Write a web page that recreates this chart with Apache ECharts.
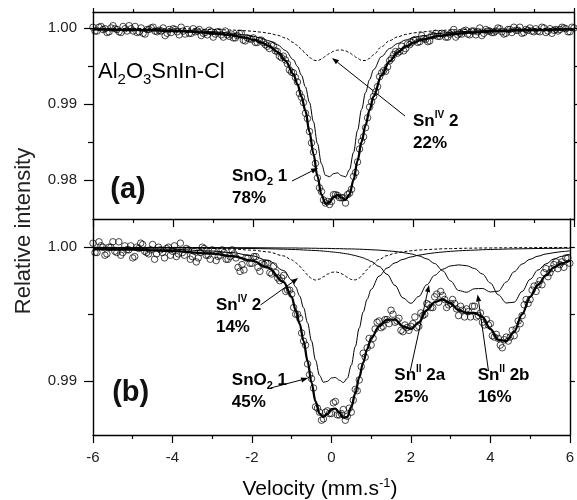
<!DOCTYPE html>
<html><head><meta charset="utf-8">
<script src="https://cdn.jsdelivr.net/npm/echarts@6/dist/echarts.min.js"></script>
<style>html,body{margin:0;padding:0;background:#fff}#c{width:577px;height:500px}</style>
</head><body><div id="c"></div>
<script>
// ---------- data: observed channels (two interleaved channel sets) ----------
const velocity = [
-6,-5.9,-5.8,-5.7,-5.6,-5.5,-5.4,-5.3,-5.2,-5.1,
-5,-4.9,-4.8,-4.7,-4.6,-4.5,-4.4,-4.3,-4.2,-4.1,
-4,-3.9,-3.8,-3.7,-3.6,-3.5,-3.4,-3.3,-3.2,-3.1,
-3,-2.9,-2.8,-2.7,-2.6,-2.5,-2.4,-2.3,-2.2,-2.1,
-2,-1.9,-1.8,-1.7,-1.6,-1.5,-1.4,-1.3,-1.2,-1.1,
-1,-0.9,-0.8,-0.7,-0.6,-0.5,-0.4,-0.3,-0.2,-0.1,
0,0.1,0.2,0.3,0.4,0.5,0.6,0.7,0.8,0.9,
1,1.1,1.2,1.3,1.4,1.5,1.6,1.7,1.8,1.9,
2,2.1,2.2,2.3,2.4,2.5,2.6,2.7,2.8,2.9,
3,3.1,3.2,3.3,3.4,3.5,3.6,3.7,3.8,3.9,
4,4.1,4.2,4.3,4.4,4.5,4.6,4.7,4.8,4.9,
5,5.1,5.2,5.3,5.4,5.5,5.6,5.7,5.8,5.9,
6];
const velocityMid = [
-5.95,-5.85,-5.75,-5.65,-5.55,-5.45,-5.35,-5.25,-5.15,-5.05,
-4.95,-4.85,-4.75,-4.65,-4.55,-4.45,-4.35,-4.25,-4.15,-4.05,
-3.95,-3.85,-3.75,-3.65,-3.55,-3.45,-3.35,-3.25,-3.15,-3.05,
-2.95,-2.85,-2.75,-2.65,-2.55,-2.45,-2.35,-2.25,-2.15,-2.05,
-1.95,-1.85,-1.75,-1.65,-1.55,-1.45,-1.35,-1.25,-1.15,-1.05,
-0.95,-0.85,-0.75,-0.65,-0.55,-0.45,-0.35,-0.25,-0.15,-0.05,
0.05,0.15,0.25,0.35,0.45,0.55,0.65,0.75,0.85,0.95,
1.05,1.15,1.25,1.35,1.45,1.55,1.65,1.75,1.85,1.95,
2.05,2.15,2.25,2.35,2.45,2.55,2.65,2.75,2.85,2.95,
3.05,3.15,3.25,3.35,3.45,3.55,3.65,3.75,3.85,3.95,
4.05,4.15,4.25,4.35,4.45,4.55,4.65,4.75,4.85,4.95,
5.05,5.15,5.25,5.35,5.45,5.55,5.65,5.75,5.85,5.95];
const aObserved = [
1.0001,.9996,1.0002,.9999,.9995,1.0003,.9998,.9994,.9999,1.0003,
.9996,.9994,1.0000,.9992,.9998,1.0001,.9995,.9996,.9990,.9998,
.9999,.9995,1.0001,.9992,.9993,.9999,.9996,.9990,.9994,.9997,
.9988,.9995,.9991,.9996,.9989,.9987,.9990,.9993,.9983,.9986,
.9987,.9981,.9984,.9978,.9973,.9977,.9969,.9961,.9958,.9945,
.9941,.9929,.9909,.9888,.9864,.9837,.9803,.9785,.9770,.9768,
.9781,.9780,.9777,.9770,.9783,.9805,.9824,.9851,.9869,.9896,
.9910,.9923,.9941,.9943,.9957,.9965,.9967,.9976,.9973,.9978,
.9984,.9981,.9990,.9985,.9983,.9990,.9989,.9993,.9988,.9992,
.9998,.9991,.9992,.9997,.9991,.9996,.9995,.9990,.9998,.9996,
.9994,1.0000,.9995,.9993,.9998,1.0001,.9997,.9993,.9998,1.0000,
.9995,.9996,1.0001,.9994,.9999,.9997,.9996,1.0001,.9999,.9995,
1.0000];
const aObservedMid = [
.9996,1.0001,.9998,.9994,1.0000,.9999,.9995,1.0002,.9996,.9999,
1.0002,.9995,.9993,.9998,1.0000,.9996,.9997,1.0000,.9993,.9994,
.9998,.9991,.9996,.9998,.9993,.9995,.9998,.9993,.9991,.9995,
.9992,.9995,.9988,.9991,.9992,.9987,.9993,.9984,.9987,.9985,
.9981,.9984,.9981,.9976,.9978,.9970,.9963,.9963,.9953,.9942,
.9935,.9914,.9902,.9881,.9849,.9822,.9790,.9774,.9772,.9772,
.9781,.9777,.9777,.9781,.9788,.9810,.9841,.9857,.9882,.9903,
.9916,.9936,.9944,.9949,.9960,.9969,.9969,.9970,.9979,.9981,
.9985,.9982,.9986,.9982,.9990,.9993,.9989,.9992,.9988,.9994,
.9988,.9993,.9996,.9992,.9996,.9991,1.0000,.9993,.9996,.9994,
.9996,.9999,.9992,.9998,.9994,.9997,1.0001,.9994,.9997,.9996,
.9999,.9995,1.0000,.9996,.9993,.9998,.9998,1.0000,.9995,1.0001];
const bObserved = [
1.0003,.9996,1.0001,.9994,1.0000,1.0004,.9996,.9994,1.0001,.9998,
.9992,1.0000,1.0003,.9997,.9995,1.0002,.9995,.9998,.9992,1.0000,
.9997,.9993,1.0003,.9994,.9998,.9993,.9989,.9996,.9999,.9994,
.9998,.9990,.9994,.9996,.9991,.9998,.9992,.9982,.9983,.9992,
.9988,.9993,.9982,.9987,.9988,.9980,.9981,.9975,.9979,.9968,
.9965,.9950,.9947,.9930,.9913,.9902,.9881,.9877,.9872,.9878,
.9876,.9885,.9875,.9879,.9874,.9877,.9894,.9901,.9921,.9925,
.9927,.9939,.9945,.9941,.9946,.9953,.9944,.9947,.9937,.9940,
.9941,.9948,.9941,.9949,.9958,.9955,.9963,.9959,.9964,.9955,
.9958,.9958,.9949,.9953,.9954,.9948,.9956,.9949,.9944,.9946,
.9943,.9933,.9932,.9925,.9933,.9933,.9934,.9945,.9949,.9961,
.9961,.9971,.9972,.9972,.9984,.9981,.9987,.9984,.9989,.9992,
.9988];
const bObservedMid = [
.9996,1.0004,1.0000,.9995,1.0000,.9997,1.0004,.9996,.9998,1.0001,
.9993,.9999,1.0002,.9996,.9998,.9991,1.0000,.9996,.9999,.9994,
1.0001,.9995,.9996,.9999,.9991,.9997,.9992,1.0000,.9994,.9991,
.9997,.9993,.9998,.9991,.9993,.9995,.9985,.9987,.9992,.9988,
.9993,.9985,.9988,.9988,.9981,.9986,.9977,.9977,.9967,.9968,
.9955,.9950,.9936,.9927,.9905,.9895,.9880,.9871,.9877,.9876,
.9884,.9875,.9876,.9871,.9880,.9886,.9893,.9911,.9918,.9932,
.9932,.9944,.9940,.9946,.9943,.9950,.9945,.9938,.9942,.9938,
.9943,.9940,.9951,.9950,.9957,.9955,.9965,.9967,.9961,.9957,
.9961,.9954,.9956,.9948,.9952,.9956,.9948,.9951,.9942,.9942,
.9934,.9935,.9927,.9931,.9930,.9938,.9939,.9943,.9957,.9958,
.9968,.9967,.9975,.9981,.9978,.9984,.9989,.9987,.9985,.9992];

// panel (a) fitted curves
const aCurveV = [-6,-5,-4,-3.5,-3,-2.6,-2.2,-2.0,-1.8,-1.6,-1.4,-1.2,-1.0,-0.9,-0.8,-0.7,-0.6,-0.5,-0.4,-0.3,-0.2,-0.1,0,0.1,0.2,0.3,0.4,0.5,0.6,0.7,0.8,0.9,1.0,1.2,1.4,1.6,1.8,2.0,2.2,2.6,3.0,3.5,4.0,5.0,6.0];
const aFit = [.99982,.99975,.99961,.99949,.99931,.99909,.99872,.99846,.99809,.99759,.99685,.99572,.99393,.99263,.99098,.98910,.98636,.98346,.98050,.97807,.97691,.97710,.97779,.97806,.97772,.97743,.97813,.98005,.98256,.98502,.98722,.98922,.99100,.99381,.99563,.99680,.99756,.99808,.99845,.99893,.99921,.99943,.99957,.99973,.99982];
const aSnO2 = [.99987,.99982,.99972,.99963,.99950,.99934,.99909,.99890,.99865,.99830,.99780,.99704,.99583,.99494,.99379,.99225,.99023,.98769,.98480,.98216,.98064,.98045,.98086,.98096,.98060,.98043,.98138,.98366,.98655,.98928,.99151,.99322,.99452,.99626,.99730,.99796,.99842,.99873,.99896,.99927,.99946,.99960,.99970,.99981,.99987];
const aSnIV = [.99995,.99993,.99989,.99986,.99981,.99974,.99964,.99956,.99945,.99929,.99905,.99869,.99810,.99769,.99720,.99665,.99613,.99577,.99570,.99591,.99628,.99665,.99693,.99709,.99711,.99700,.99675,.99639,.99601,.99574,.99572,.99600,.99648,.99755,.99834,.99883,.99915,.99935,.99949,.99966,.99976,.99983,.99987,.99992,.99995];

// panel (b) fitted curves
const bCurveV = [-6,-5,-4,-3,-2.5,-2.0,-1.6,-1.2,-1.0,-0.9,-0.8,-0.7,-0.6,-0.5,-0.4,-0.3,-0.2,-0.1,0,0.1,0.2,0.3,0.4,0.5,0.6,0.7,0.8,0.9,1.0,1.2,1.4,1.6,1.8,2.0,2.2,2.4,2.6,2.8,3.0,3.2,3.4,3.6,3.8,4.0,4.2,4.4,4.6,4.8,5.0,5.2,5.4,5.6,5.8,6.0];
const bFit = [.99986,.99981,.99971,.99952,.99933,.99899,.99848,.99740,.99630,.99530,.99430,.99300,.99150,.98990,.98850,.98760,.98735,.98758,.98792,.98797,.98766,.98729,.98735,.98809,.98910,.99030,.99140,.99240,.99320,.99410,.99460,.99460,.99410,.99390,.99440,.99530,.99590,.99610,.99580,.99530,.99510,.99510,.99480,.99390,.99310,.99300,.99370,.99500,.99630,.99720,.99790,.99850,.99880,.99900];
const bSnO2 = [.99993,.99990,.99984,.99971,.99959,.99936,.99901,.99826,.99755,.99704,.99636,.99548,.99436,.99300,.99158,.99045,.98993,.99000,.99025,.99029,.99008,.98991,.99022,.99120,.99258,.99397,.99517,.99612,.99685,.99784,.99844,.99883,.99909,.99927,.99940,.99950,.99958,.99964,.99969,.99973,.99976,.99978,.99981,.99983,.99984,.99986,.99987,.99988,.99989,.99990,.99991,.99991,.99992,.99992];
const bSnIV = [.99998,.99997,.99995,.99991,.99986,.99978,.99965,.99935,.99906,.99884,.99858,.99826,.99793,.99766,.99755,.99762,.99780,.99799,.99812,.99816,.99810,.99796,.99776,.99759,.99756,.99771,.99800,.99833,.99864,.99909,.99937,.99955,.99966,.99973,.99979,.99982,.99985,.99988,.99989,.99991,.99992,.99993,.99994,.99994,.99995,.99995,.99996,.99996,.99996,.99997,.99997,.99997,.99997,.99998];
const bSnII2a = [.99997,.99996,.99995,.99993,.99992,.99990,.99988,.99985,.99983,.99982,.99981,.99979,.99978,.99976,.99975,.99973,.99971,.99968,.99965,.99962,.99959,.99954,.99950,.99944,.99937,.99929,.99920,.99908,.99894,.99856,.99798,.99715,.99622,.99581,.99633,.99720,.99791,.99836,.99860,.99868,.99862,.99841,.99800,.99733,.99645,.99584,.99590,.99670,.99760,.99830,.99875,.99912,.99932,.99948];
const bSnII2b = [.99999,.99998,.99998,.99997,.99996,.99996,.99995,.99994,.99994,.99994,.99993,.99993,.99993,.99992,.99992,.99991,.99991,.99991,.99990,.99989,.99989,.99988,.99987,.99987,.99986,.99985,.99984,.99982,.99981,.99978,.99973,.99968,.99960,.99950,.99935,.99913,.99878,.99824,.99748,.99677,.99664,.99690,.99692,.99666,.99672,.99740,.99817,.99874,.99910,.99933,.99949,.99959,.99967,.99973];

// ticks
const xTicks = [-6, -4, -2, 0, 2, 4, 6];
const aYTicks = [0.98, 0.99, 1.00];
const aYMinor = [0.985, 0.995];
const bYTicks = [0.99, 1.00];
const bYMinor = [0.995];

// ---------- chart ----------
const F = '"Liberation Sans", Arial, Helvetica, sans-serif';
const chart = echarts.init(document.getElementById('c'), null, {renderer: 'canvas'});
const zip = (xs, ys) => xs.map((x, i) => [x, ys[i]]);
const axisLine = {show: true, onZero: false, lineStyle: {color: '#000', width: 1.4}};
const noLine = {show: false, onZero: false};
const tickStyle = {color: '#000', width: 1.2};
const aRange = [0.9749, 1.0021], bRange = [0.9860, 1.0021];

function xAxisDef(grid, pos, showLabel, len, minorLen) {
  return {gridIndex: grid, type: 'value', position: pos, min: xTicks[0], max: xTicks[xTicks.length - 1], interval: 2,
    axisLine, axisTick: {show: true, length: len, lineStyle: tickStyle},
    minorTick: {show: true, splitNumber: 2, length: minorLen, lineStyle: tickStyle},
    axisLabel: {show: showLabel, fontFamily: F, fontSize: 15, color: '#222', margin: 15},
    splitLine: {show: false}, minorSplitLine: {show: false}};
}
function yAxesDef(grid, range, major, minor) {
  return [
    {gridIndex: grid, type: 'value', position: 'left', min: range[0], max: range[1], axisLine,
      axisTick: {show: true, customValues: major, length: 9, lineStyle: tickStyle},
      axisLabel: {show: true, customValues: major, formatter: v => v.toFixed(2), fontFamily: F, fontSize: 15, color: '#222', margin: 16},
      splitLine: {show: false}},
    {gridIndex: grid, type: 'value', position: 'left', min: range[0], max: range[1], axisLine: noLine,
      axisTick: {show: true, customValues: minor, length: 5, lineStyle: tickStyle},
      axisLabel: {show: false}, splitLine: {show: false}},
    {gridIndex: grid, type: 'value', position: 'right', min: range[0], max: range[1], axisLine,
      axisTick: {show: true, customValues: major.concat(minor), length: 5, lineStyle: tickStyle},
      axisLabel: {show: false}, splitLine: {show: false}}
  ];
}
function curve(xi, yi, xs, ys, width, dashed, z) {
  return {type: 'line', xAxisIndex: xi, yAxisIndex: yi, data: zip(xs, ys), smooth: 0.35, smoothMonotone: 'x',
    showSymbol: false, symbol: 'none', silent: true, z,
    lineStyle: {color: '#000', width, type: dashed ? [3, 2] : 'solid'}};
}
function dots(xi, yi, xs, ys) {
  return {type: 'scatter', xAxisIndex: xi, yAxisIndex: yi, data: zip(xs, ys), symbol: 'circle', symbolSize: 6.5,
    itemStyle: {color: 'rgba(255,255,255,0)', borderColor: '#000', borderWidth: 0.9}, z: 2, silent: true};
}

chart.setOption({
  animation: false,
  backgroundColor: '#fff',
  grid: [{left: 93, top: 12, width: 481, height: 207}, {left: 93, top: 219, width: 481, height: 216}],
  xAxis: [xAxisDef(0, 'bottom', false, 8, 4), xAxisDef(0, 'top', false, 4, 3), xAxisDef(1, 'bottom', true, 8, 4)],
  yAxis: yAxesDef(0, aRange, aYTicks, aYMinor).concat(yAxesDef(1, bRange, bYTicks, bYMinor)),
  series: [
    dots(0, 0, velocity, aObserved),
    dots(0, 0, velocityMid, aObservedMid),
    curve(0, 0, aCurveV, aSnO2, 1, false, 3),
    curve(0, 0, aCurveV, aSnIV, 1, true, 3),
    curve(0, 0, aCurveV, aFit, 2.3, false, 4),
    dots(2, 3, velocity, bObserved),
    dots(2, 3, velocityMid, bObservedMid),
    curve(2, 3, bCurveV, bSnO2, 1, false, 3),
    curve(2, 3, bCurveV, bSnIV, 1, true, 3),
    curve(2, 3, bCurveV, bSnII2a, 1, false, 3),
    curve(2, 3, bCurveV, bSnII2b, 1, false, 3),
    curve(2, 3, bCurveV, bFit, 2.3, false, 4)
  ]
});

// ---------- annotations (anchored in data coordinates) ----------
const toA = p => chart.convertToPixel({xAxisIndex: 0, yAxisIndex: 0}, p);
const toB = p => chart.convertToPixel({xAxisIndex: 2, yAxisIndex: 3}, p);
const richLbl = {
  b: {fontFamily: F, fontWeight: 'bold', fontSize: 17, lineHeight: 22, color: '#111'},
  sup: {fontFamily: F, fontWeight: 'bold', fontSize: 10, lineHeight: 10, verticalAlign: 'top', color: '#111'},
  sub: {fontFamily: F, fontWeight: 'bold', fontSize: 11, lineHeight: 10, verticalAlign: 'bottom', color: '#111'}
};
function label(p, text) {
  return {type: 'text', x: p[0], y: p[1], z: 100, style: {text, rich: richLbl, align: 'left', verticalAlign: 'top'}};
}
function arrow(p0, p1) {
  const dx = p1[0] - p0[0], dy = p1[1] - p0[1], L = Math.hypot(dx, dy), ux = dx / L, uy = dy / L;
  const h = 7, w = 2.6, bx = p1[0] - ux * h, by = p1[1] - uy * h;
  return [
    {type: 'line', z: 100, shape: {x1: p0[0], y1: p0[1], x2: bx, y2: by}, style: {stroke: '#000', lineWidth: 1}},
    {type: 'polygon', z: 100, shape: {points: [[p1[0], p1[1]], [bx - uy * w, by + ux * w], [bx + uy * w, by - ux * w]]}, style: {fill: '#000'}}
  ];
}
const g = [];
const pt = toA([-5.875, 0.9942]);
g.push({type: 'text', x: pt[0], y: pt[1], z: 100,
  style: {text: '{n|Al}{s|2}{n|O}{s|3}{n|SnIn-Cl}', align: 'left', verticalAlign: 'middle',
    rich: {n: {fontFamily: F, fontSize: 22, lineHeight: 30, color: '#111'},
           s: {fontFamily: F, fontSize: 15, lineHeight: 10, verticalAlign: 'bottom', color: '#111'}}}});
const pa = toA([-5.127, 0.97871]);
g.push({type: 'text', x: pa[0], y: pa[1], z: 100, style: {text: '(a)', font: 'bold 29px ' + F, fill: '#111', align: 'center', verticalAlign: 'middle'}});
const pb = toB([-5.052, 0.98913]);
g.push({type: 'text', x: pb[0], y: pb[1], z: 100, style: {text: '(b)', font: 'bold 29px ' + F, fill: '#111', align: 'center', verticalAlign: 'middle'}});

g.push(label(toA([-2.532, 0.98193]), '{b|SnO}{sub|2}{b| 1}\n{b|78%}'));
g.push(...arrow(toA([-1.035, 0.97989]), toA([-0.387, 0.98160])));
g.push(label(toA([1.983, 0.98916]), '{b|Sn}{sup|IV}{b| 2}\n{b|22%}'));
g.push(...arrow(toA([1.784, 0.98843]), toA([-0.037, 0.99606])));

g.push(label(toB([-2.906, 0.99651]), '{b|Sn}{sup|IV}{b| 2}\n{b|14%}'));
g.push(...arrow(toB([-1.784, 0.99569]), toB([-0.836, 0.99770])));
g.push(label(toB([-2.507, 0.99092]), '{b|SnO}{sub|2}{b| 1}\n{b|45%}'));
g.push(...arrow(toB([-1.534, 0.98950]), toB([-0.586, 0.99024])));
g.push(label(toB([1.584, 0.99129]), '{b|Sn}{sup|II}{b| 2a}\n{b|25%}'));
g.push(...arrow(toB([1.983, 0.99076]), toB([2.457, 0.99718])));
g.push(label(toB([3.680, 0.99129]), '{b|Sn}{sup|II}{b| 2b}\n{b|16%}'));
g.push(...arrow(toB([3.954, 0.99076]), toB([3.680, 0.99647])));

// axis titles
g.push({type: 'text', x: 24, y: 231, rotation: Math.PI / 2, z: 100,
  style: {text: 'Relative intensity', font: '22px ' + F, fill: '#222', align: 'center', verticalAlign: 'middle'}});
g.push({type: 'text', x: 320, y: 489, z: 100,
  style: {text: '{n|Velocity (mm.s}{s|-1}{n|)}', align: 'center', verticalAlign: 'middle',
    rich: {n: {fontFamily: F, fontSize: 21, lineHeight: 24, color: '#222'},
           s: {fontFamily: F, fontSize: 13, lineHeight: 12, verticalAlign: 'top', color: '#222'}}}});

chart.setOption({graphic: g});
</script>
</body></html>
